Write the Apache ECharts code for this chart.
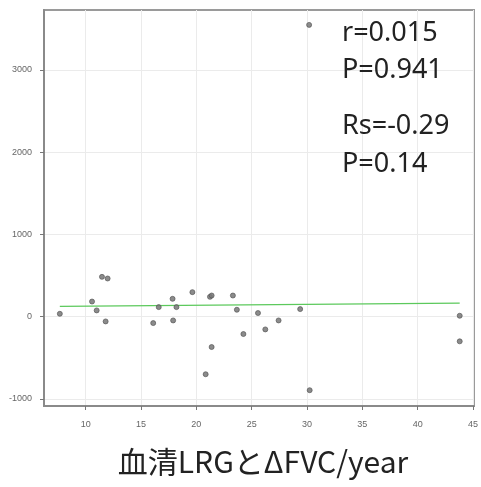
<!DOCTYPE html>
<html>
<head>
<meta charset="utf-8">
<script src="https://cdn.jsdelivr.net/npm/echarts@6/dist/echarts.min.js"></script>
<style>html,body{margin:0;padding:0;background:#fff;}#c{width:481px;height:487px;}</style>
</head>
<body>
<div id="c"></div>
<script>
// Serum LRG (x) vs ΔFVC/year (y)
const lrgValues = [7.66, 10.57, 10.99, 11.47, 11.98, 11.8, 16.1, 16.6, 17.85, 17.9, 18.2, 19.64, 21.23, 21.38, 23.3, 23.66, 20.84, 21.38, 24.25, 25.57, 26.23, 27.43, 29.38, 30.24, 43.8, 43.8, 30.19];
const fvcValues = [36, 185, 77, 485, 465, -57, -77, 117, 218, -45, 117, 299, 242, 258, 258, 85, -699, -368, -210, 45, -154, -45, 93, -893, 12, -299, 3548];
const fitX = [7.66, 43.8];
const fitY = [125, 166];
const xTicks = [10, 15, 20, 25, 30, 35, 40, 45];
const yTicks = [-1000, 0, 1000, 2000, 3000];
const statLines = ['r=0.015', 'P=0.941', 'Rs=-0.29', 'P=0.14'];
const chartTitle = '血清LRGとΔFVC/year';

const points = lrgValues.map((x, i) => [x, fvcValues[i]]);
const fitLine = fitX.map((x, i) => [x, fitY[i]]);

const chart = echarts.init(document.getElementById('c'), null, {renderer: 'canvas'});
const statY = [37, 74, 130, 168];
chart.setOption({
  animation: false,
  backgroundColor: '#fff',
  grid: {left: 44, right: 4, top: 10, bottom: 81, show: true, borderColor: '#9a9a9a', borderWidth: 2},
  xAxis: {
    type: 'value', min: 6.23, max: 45.09,
    axisLine: {show: true, onZero: false, lineStyle: {color: '#8a8a8a', width: 2}},
    axisTick: {show: true, length: 4, customValues: xTicks, lineStyle: {color: '#777'}},
    axisLabel: {customValues: xTicks, color: '#666', fontSize: 9, margin: 14, fontFamily: 'Liberation Sans', formatter: v => String(v)},
    splitLine: {show: true, lineStyle: {color: '#ebebeb', width: 1}}
  },
  yAxis: {
    type: 'value', min: -1085, max: 3729,
    axisLine: {show: true, onZero: false, lineStyle: {color: '#8a8a8a', width: 2}},
    axisTick: {show: true, length: 4, customValues: yTicks, lineStyle: {color: '#777'}},
    axisLabel: {customValues: yTicks, color: '#666', fontSize: 9, margin: 12, fontFamily: 'Liberation Sans', formatter: v => String(v)},
    splitLine: {show: true, lineStyle: {color: '#ebebeb', width: 1}}
  },
  series: [
    {type: 'line', data: fitLine, symbol: 'none', lineStyle: {color: '#5cc95c', width: 1.3}, z: 3},
    {type: 'scatter', data: points, symbolSize: 5, itemStyle: {color: '#777', borderColor: '#555', borderWidth: 0.8, opacity: 0.85}, z: 4}
  ],
  graphic: statLines.map((t, i) => ({
    type: 'text', left: 342, top: statY[i] - 17, z: 100,
    style: {text: t, fontSize: 27, fontFamily: 'Noto Sans', fill: '#222'}
  })).concat([{
    type: 'text', x: 263, y: 462, z: 100,
    style: {text: chartTitle, fontSize: 30, fontFamily: 'Noto Sans CJK JP', fill: '#222', align: 'center', verticalAlign: 'middle'}
  }])
});
</script>
</body>
</html>
